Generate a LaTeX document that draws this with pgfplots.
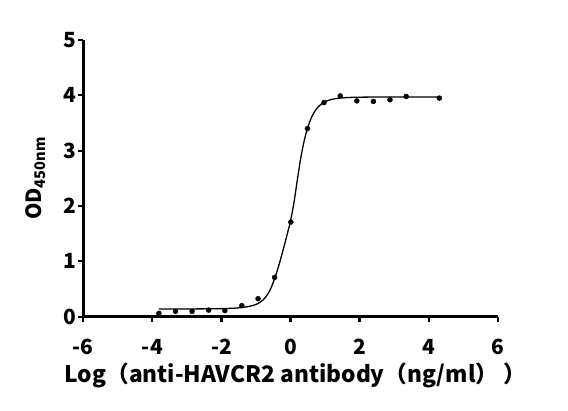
\documentclass[border=0pt]{standalone}
\usepackage{pgfplots}
\pgfplotsset{compat=1.18}
\usepackage{fontspec}
\setmainfont{Noto Sans CJK SC}

\begin{document}
\begin{tikzpicture}
\path[use as bounding box] (-83.3bp,-94bp) rectangle (484.7bp,316.7bp);
\begin{axis}[
  at={(0,0)}, anchor=south west,
  scale only axis, width=414.4bp, height=276.7bp,
  xmin=-6, xmax=6, ymin=0, ymax=5,
  axis lines=left,
  axis line style={-, line width=2.6bp},
  xtick={-6,-4,...,6}, xticklabels={-6,-4,-2,0,2,4,6},
  ytick={0,1,...,5}, yticklabels={0,1,2,3,4,5},
  tick align=outside, major tick length=5.5bp,
  tick style={line width=2.2bp, black},
  ticklabel style={font=\fontsize{21}{23}\selectfont\bfseries},
  yticklabel style={inner xsep=1bp},
  xticklabel style={inner ysep=4bp, yshift=-13bp},
  xlabel={Log（anti-HAVCR2 antibody（ng/ml）\ ）},
  ylabel={OD\textsubscript{450nm}},
  xlabel style={font=\fontsize{22.8}{25}\selectfont\bfseries,
    at={(axis description cs:0.512,-0.2385)}, anchor=base},
  ylabel style={font=\fontsize{21}{23}\selectfont\bfseries,
    at={(axis description cs:-0.0997,0.5)}, anchor=base},
  clip=false,
]
% fitted curve
\addplot[black, line width=1.3bp, smooth, tension=0.4] coordinates {
  (-3.81,0.140) (-3.0,0.140) (-2.5,0.142) (-2.0,0.146) (-1.6,0.155)
  (-1.3,0.175) (-1.1,0.200) (-0.95,0.235) (-0.8,0.300) (-0.7,0.370)
  (-0.6,0.470) (-0.5,0.620) (-0.4,0.800) (-0.3,1.010) (-0.2,1.240)
  (-0.1,1.480) (0.0,1.730) (0.1,2.060) (0.2,2.480) (0.3,2.880)
  (0.4,3.190) (0.5,3.420) (0.6,3.590) (0.7,3.710) (0.8,3.790)
  (0.9,3.845) (1.0,3.885) (1.15,3.920) (1.3,3.940) (1.5,3.955)
  (1.8,3.964) (2.2,3.968) (3.0,3.970) (4.31,3.970)
};
% measured points
\addplot[only marks, mark=*, mark size=2.5bp, black] coordinates {
  (-3.81,0.06) (-3.33,0.096) (-2.85,0.096) (-2.37,0.12) (-1.90,0.11)
  (-1.41,0.20) (-0.94,0.325) (-0.46,0.71) (0.01,1.71) (0.49,3.40)
  (0.97,3.87) (1.44,3.99) (1.92,3.90) (2.40,3.89) (2.88,3.92)
  (3.35,3.98) (4.31,3.95)
};
\end{axis}
\end{tikzpicture}
\end{document}
